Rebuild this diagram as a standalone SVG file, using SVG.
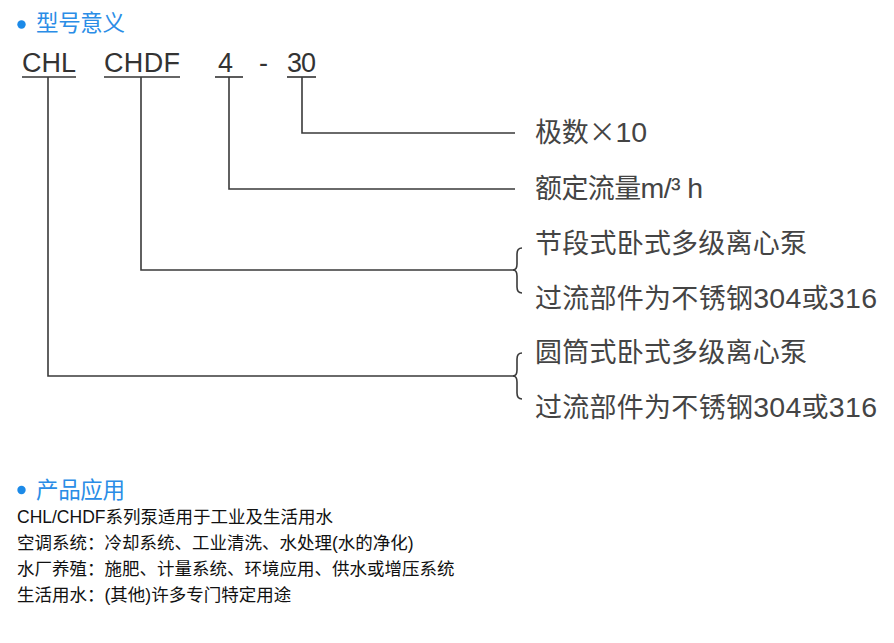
<svg xmlns="http://www.w3.org/2000/svg" width="894" height="643" viewBox="0 0 894 643">
<style>
.h{font-family:"Liberation Sans","Noto Sans CJK SC",sans-serif;font-size:22.5px;fill:#2a8de6}
.dot{fill:#1c8ae8}
.code{font-family:"Liberation Sans","Noto Sans CJK SC",sans-serif;font-size:27px;fill:#333}
.lbl{font-family:"Liberation Sans","Noto Sans CJK SC",sans-serif;font-size:27px;fill:#444}
.num{font-size:28.5px}
.cjk{font-family:"Noto Sans CJK SC",sans-serif}
.body{font-family:"Liberation Sans","Noto Sans CJK SC",sans-serif;font-size:17.5px;fill:#111}
.ln{fill:none;stroke:#3a3a3a;stroke-width:1.6}
.ul{stroke:#333;stroke-width:1.6}
</style>
<rect width="894" height="643" fill="#fff"/>
<g id="title1">
<circle class="dot" cx="21.5" cy="24.5" r="4.2"/>
<text class="h" x="36" y="31" textLength="89" lengthAdjust="spacing">型号意义</text>
</g>
<g id="code">
<text class="code" x="22" y="72" textLength="54" lengthAdjust="spacing">CHL</text>
<text class="code" x="104" y="72" textLength="76" lengthAdjust="spacing">CHDF</text>
<text class="code" x="218" y="72">4</text>
<text class="code" x="259" y="72">-</text>
<text class="code" x="287" y="72" textLength="29" lengthAdjust="spacing">30</text>
<line class="ul" x1="22" y1="77" x2="76" y2="77"/>
<line class="ul" x1="104" y1="77" x2="180" y2="77"/>
<line class="ul" x1="215" y1="77" x2="243" y2="77"/>
<line class="ul" x1="287" y1="77" x2="316" y2="77"/>
</g>
<g id="connectors">
<path class="ln" d="M302,77 V133 H515"/>
<path class="ln" d="M229,77 V189 H515"/>
<path class="ln" d="M141,77 V270 H515"/>
<path class="ln" d="M48,77 V376 H515"/>
<path class="ln" d="M522,248 Q517,248 517,254 V264 Q517,270 513,270 Q517,270 517,276 V287 Q517,293 522,293"/>
<path class="ln" d="M522,353 Q517,353 517,359 V370 Q517,376 513,376 Q517,376 517,382 V393 Q517,399 522,399"/>
</g>
<g id="label-poles">
<text class="lbl" x="535" y="142" textLength="112" lengthAdjust="spacing">极数<tspan class="cjk">×</tspan><tspan class="num">10</tspan></text>
</g>
<g id="label-flow">
<text class="lbl" x="535" y="198" textLength="168" lengthAdjust="spacing">额定流量<tspan class="num">m/³ h</tspan></text>
</g>
<g id="label-chdf">
<text class="lbl" x="535" y="253" textLength="272" lengthAdjust="spacing">节段式卧式多级离心泵</text>
<text class="lbl" x="535" y="308" textLength="342" lengthAdjust="spacing">过流部件为不锈钢<tspan class="num">304</tspan>或<tspan class="num">316</tspan></text>
</g>
<g id="label-chl">
<text class="lbl" x="535" y="362" textLength="272" lengthAdjust="spacing">圆筒式卧式多级离心泵</text>
<text class="lbl" x="535" y="417" textLength="342" lengthAdjust="spacing">过流部件为不锈钢<tspan class="num">304</tspan>或<tspan class="num">316</tspan></text>
</g>
<g id="title2">
<circle class="dot" cx="21.5" cy="490" r="4.2"/>
<text class="h" x="36" y="498" textLength="89" lengthAdjust="spacing">产品应用</text>
</g>
<g id="applications">
<text class="body" x="17" y="523">CHL/CHDF系列泵适用于工业及生活用水</text>
<text class="body" x="17" y="549">空调系统：冷却系统、工业清洗、水处理(水的净化)</text>
<text class="body" x="17" y="575">水厂养殖：施肥、计量系统、环境应用、供水或增压系统</text>
<text class="body" x="17" y="601">生活用水：(其他)许多专门特定用途</text>
</g>
</svg>
